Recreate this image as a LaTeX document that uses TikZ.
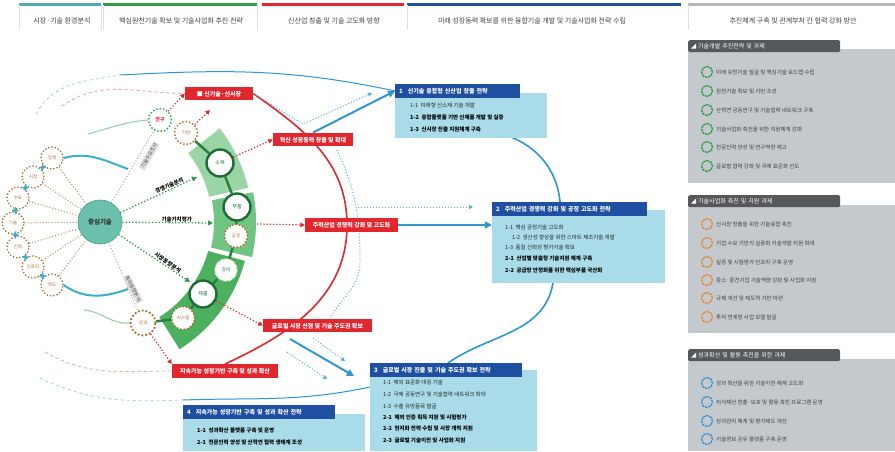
\documentclass[tikz,border=0pt]{standalone}
\usepackage{fontspec}
\setmainfont{Noto Sans CJK KR}
\usetikzlibrary{shapes.geometric,arrows.meta,calc}
\pgfdeclarelayer{bg}
\pgfsetlayers{bg,main}
\definecolor{tealc}{HTML}{4FA9B3}
\definecolor{greenc}{HTML}{2E9A4A}
\definecolor{redc}{HTML}{E1262D}
\definecolor{bluec}{HTML}{1F4FA0}
\definecolor{grayc}{HTML}{B8B8B8}
\definecolor{panelc}{HTML}{C3C9CC}
\definecolor{panelh}{HTML}{55595C}
\definecolor{bodyc}{HTML}{A9DCE8}
\definecolor{hubc}{HTML}{6CC1AC}
\definecolor{hubb}{HTML}{3E9F8A}
\definecolor{bandA}{HTML}{9BD5A5}
\definecolor{bandB}{HTML}{72C483}
\definecolor{bandC}{HTML}{4DB05E}
\definecolor{darkg}{HTML}{1E6B38}
\definecolor{brownc}{HTML}{A86B2D}
\definecolor{cyanc}{HTML}{3AAFC8}
\definecolor{lineblue}{HTML}{2E97CE}
\definecolor{orangec}{HTML}{E5873A}
\definecolor{itemblue}{HTML}{3A8FD0}
\tikzset{
 tabside/.style={draw=black!12, line width=0.8pt},
 tabtxt/.style={font=\fontsize{7}{8}\selectfont, text=black!75, inner sep=0},
 hubn/.style={circle, fill=hubc, draw=hubb, line width=0.6pt, minimum size=44pt, inner sep=0, font=\fontsize{6.5}{7}\selectfont\bfseries, text=black!80},
 chainc/.style={circle, fill=white, draw=brownc, dotted, line width=1.3pt, minimum size=22pt, inner sep=0, font=\fontsize{4.5}{5}\selectfont, text=brownc},
 starm/.style={star, star points=4, star point ratio=2.6, fill=cyanc, inner sep=0, minimum size=8pt},
 ringc/.style={circle, fill=white, draw=darkg, line width=2.4pt, minimum size=27pt, inner sep=0, font=\fontsize{5}{6}\selectfont, text=darkg},
 bdotc/.style={circle, fill=white, draw=brownc, dotted, line width=1.4pt, minimum size=23pt, inner sep=0, font=\fontsize{4.5}{5}\selectfont, text=brownc},
 gdotc/.style={circle, fill=white, draw=greenc, dotted, line width=1.4pt, minimum size=23pt, inner sep=0, font=\fontsize{5}{6}\selectfont\bfseries, text=redc},
 wdashc/.style={circle, fill=white, draw=greenc!60, dashed, line width=1pt, minimum size=23pt, inner sep=0, font=\fontsize{4.5}{5}\selectfont, text=darkg},
 redlab/.style={fill=redc, text=white, font=\fontsize{6}{7}\selectfont\bfseries, inner xsep=2pt, inner ysep=0, minimum height=13.5pt, text depth=0pt},
 bhead/.style={fill=bluec, text=white, font=\fontsize{6}{7}\selectfont\bfseries, inner xsep=4pt, inner ysep=0, minimum height=13.5pt, anchor=north west, align=left, text depth=0pt, text width=#1},
 bbody/.style={fill=bodyc, anchor=north west, inner sep=0},
 bline/.style={font=\fontsize{5.5}{6}\selectfont, text=black!85, anchor=west, inner sep=0},
 bbold/.style={font=\fontsize{5.5}{6}\selectfont\bfseries, text=black, anchor=west, inner sep=0},
 pbody/.style={fill=panelc, anchor=north west, inner sep=0},
 phead/.style={fill=panelh, text=white, font=\fontsize{6}{7}\selectfont, anchor=north west, minimum height=12pt, inner xsep=4pt, inner ysep=0, text depth=0pt, align=left, text width=144pt, rounded corners=1.5pt},
 itemc/.style={circle, draw=#1, line width=1.3pt, dash pattern=on 2.5pt off 0.8pt, minimum size=11pt, inner sep=0},
 itemt/.style={font=\fontsize{5.5}{6}\selectfont, text=black!75, anchor=west, inner sep=0},
 arrlab/.style={font=\fontsize{5.5}{6}\selectfont\bfseries, text=black, inner sep=0.5pt},
 graylab/.style={fill=black!12, font=\fontsize{5}{6}\selectfont, text=black!70, inner sep=1.2pt},
 greendot/.style={draw=greenc, dotted, line width=1.3pt, -{Triangle[length=5pt,width=5pt]}},
 graydot/.style={draw=black!35, dotted, line width=1pt},
 browndot/.style={draw=brownc!80, dotted, line width=1pt},
 reddot/.style={draw=redc, dotted, line width=1.2pt, -{Triangle[length=4.5pt,width=4.5pt]}},
 bluedot/.style={draw=lineblue!80, dotted, line width=1pt, -{Triangle[length=4pt,width=4pt]}},
 bluearr/.style={draw=lineblue, line width=2pt, -{Triangle[length=7pt,width=7pt]}},
 bluearc/.style={draw=lineblue, line width=1.6pt},
 bluethin/.style={draw=lineblue, line width=1pt},
 redarc/.style={draw=redc, line width=1.6pt},
 fredd/.style={draw=redc!45, dashed, line width=0.8pt},
 fblued/.style={draw=lineblue!45, dashed, line width=0.8pt},
 fgreen/.style={draw=greenc!45, line width=1.2pt},
 cyancurve/.style={draw=cyanc, line width=2pt},
 bandline/.style={draw=greenc!85!black, line width=2.5pt}
}
\begin{document}
\begin{tikzpicture}[x=1pt,y=1pt]
\useasboundingbox (0,0) rectangle (895,-451);

% ---------- tabs ----------
\draw[tealc,line width=2.2pt] (19,-4.5) -- (101,-4.5);
\draw[tabside] (19,-5) -- (19,-30) (101,-5) -- (101,-30);
\draw[greenc,line width=2.2pt] (103,-4.5) -- (257,-4.5);
\draw[tabside] (103,-5) -- (103,-30) (257,-5) -- (257,-30);
\draw[redc,line width=2.2pt] (262,-4.5) -- (404,-4.5);
\draw[bluec,line width=2.2pt] (407,-4.5) -- (681,-4.5);
\draw[tabside] (407,-5) -- (407,-30);
\draw[grayc,line width=2.2pt] (688,-4.5) -- (895,-4.5);
\draw[tabside] (688,-5) -- (688,-30);
\node[tabtxt] (tab1) at (62,-20.5) {시장·기술 환경분석};
\node[tabtxt] (tab2) at (181,-20.5) {핵심원천기술 확보 및 기술사업화 추진 전략};
\node[tabtxt] (tab3) at (334,-20.5) {신산업 창출 및 기술 고도화 방향};
\node[tabtxt] (tab4) at (532,-20.5) {미래 성장동력 확보를 위한 융합기술 개발 및 기술사업화 전략 수립};
\node[tabtxt] (tab5) at (793,-20.5) {추진체계 구축 및 관계부처 간 협력 강화 방안};

% ---------- right panels ----------
\node[pbody, minimum width=207pt, minimum height=134pt] (p1b) at (688,-49) {};
\node[phead] (p1h) at (688,-40) {\hspace{6pt}기술개발 추진전략 및 과제};
\fill[white] ($(p1h.west)+(3,-2.5)$) -- ++(5,0) -- ++(0,5) -- cycle;
\foreach \yy/\itm [count=\k] in {72/미래 유망기술 발굴 및 핵심기술 로드맵 수립,91/원천기술 확보 및 기반 조성,110/산학연 공동연구 및 기술협력 네트워크 구축,129/기술사업화 촉진을 위한 지원체계 강화,147/전문인력 양성 및 연구역량 제고,166/글로벌 협력 강화 및 국제 표준화 선도}{
  \node[itemc=greenc] (pa\k) at (707,-\yy) {};
  \node[itemt] (pat\k) at (716,-\yy) {\itm};
}
\node[pbody, minimum width=207pt, minimum height=128pt] (p2b) at (688,-205) {};
\node[phead] (p2h) at (688,-195) {\hspace{6pt}기술사업화 촉진 및 지원 과제};
\fill[white] ($(p2h.west)+(3,-2.5)$) -- ++(5,0) -- ++(0,5) -- cycle;
\foreach \yy/\itm [count=\k] in {224/신시장 창출을 위한 기술융합 촉진,243/기업 수요 기반의 실용화 기술개발 지원 확대,262/실증 및 시험평가 인프라 구축 운영,280/중소·중견기업 기술역량 강화 및 사업화 지원,298/규제 개선 및 제도적 기반 마련,317/투자 연계형 사업 모델 발굴}{
  \node[itemc=orangec] (pb\k) at (707,-\yy) {};
  \node[itemt] (pbt\k) at (716,-\yy) {\itm};
}
\node[pbody, minimum width=207pt, minimum height=92pt] (p3b) at (688,-359) {};
\node[phead] (p3h) at (688,-349) {\hspace{6pt}성과확산 및 활용 촉진을 위한 과제};
\fill[white] ($(p3h.west)+(3,-2.5)$) -- ++(5,0) -- ++(0,5) -- cycle;
\foreach \yy/\itm [count=\k] in {383/성과 확산을 위한 기술이전 체계 고도화,402/지식재산 창출·보호 및 활용 촉진 프로그램 운영,421/성과관리 체계 및 평가제도 개선,439/기술정보 공유 플랫폼 구축 운영}{
  \node[itemc=itemblue] (pc\k) at (707,-\yy) {};
  \node[itemt] (pct\k) at (716,-\yy) {\itm};
}

% ---------- hub and chain ----------
\node[hubn] (hub) at (100,-222) {중심기술};
\node[chainc] (c1) at (52,-158) {정책};
\node[chainc] (c2) at (33,-177) {시장};
\node[chainc] (c3) at (18,-198) {수요};
\node[chainc] (c4) at (13,-223) {기술};
\node[chainc] (c5) at (18,-247) {인력};
\node[chainc] (c6) at (33,-267) {인프라};
\node[chainc] (c7) at (52,-285) {제도};
\foreach \a/\b [count=\k] in {c1/c2,c2/c3,c3/c4,c4/c5,c5/c6,c6/c7}
  \node[starm] (st\k) at ($(\a)!0.5!(\b)$) {};

% ---------- band circles ----------
\node[gdotc] (g0) at (160,-120) {연구};
\node[bdotc] (b0) at (186,-133) {기반};
\node[ringc] (n1) at (220,-163) {소재};
\node[ringc] (n2) at (237,-207) {부품};
\node[bdotc] (b1) at (236,-236) {공정};
\node[wdashc] (w1) at (226,-270) {장비};
\node[ringc] (n3) at (203,-294) {제품};
\node[bdotc] (b2) at (183,-318) {시스템};
\node[bdotc, minimum size=25pt, line width=1.8pt] (b3) at (143,-323) {성과};

% ---------- red labels ----------
\node[redlab, minimum width=68pt] (R1) at (219,-93.5) {■ 신기술·신시장};
\node[redlab, minimum width=80pt] (R2) at (313,-139.5) {혁신 성장동력 창출 및 확대};
\node[redlab, minimum width=93pt] (R3) at (351.5,-225) {주력산업 경쟁력 강화 및 고도화};
\node[redlab, minimum width=109pt] (R4) at (317.5,-325.5) {글로벌 시장 선점 및 기술 주도권 확보};
\node[redlab, minimum width=106pt] (R5) at (225,-371) {지속가능 성장기반 구축 및 성과 확산};

% ---------- blue boxes ----------
\node[bbody, minimum width=152pt, minimum height=45pt] (b1b) at (395,-93) {};
\node[bhead=117pt] (b1h) at (395,-84) {1\hspace{5pt}신기술 융합형 신산업 창출 전략};
\node[bline] (b1l1) at (410,-105) {1-1\ \ 미래형 신소재 기술 개발};
\node[bbold] (b1l2) at (410,-117) {1-2\ \ 융합플랫폼 기반 신제품 개발 및 실증};
\node[bbold] (b1l3) at (410,-129) {1-3\ \ 신시장 진출 지원체계 구축};

\node[bbody, minimum width=173pt, minimum height=73pt] (b2b) at (492,-210) {};
\node[bhead=147pt] (b2h) at (492,-202) {2\hspace{5pt}주력산업 경쟁력 강화 및 공정 고도화 전략};
\node[bline] (b2l1) at (505,-227) {1-1\ \ 핵심 공정기술 고도화};
\node[bline] (b2l2) at (512,-237) {1-2\ \ 생산성 향상을 위한 스마트 제조기술 개발};
\node[bline] (b2l3) at (505,-247) {1-3\ \ 품질 신뢰성 평가기술 확보};
\node[bbold] (b2l4) at (505,-258) {2-1\ \ 산업별 맞춤형 기술지원 체계 구축};
\node[bbold] (b2l5) at (505,-270) {2-2\ \ 공급망 안정화를 위한 핵심부품 국산화};

\node[bbody, minimum width=167pt, minimum height=81pt] (b3b) at (370,-370) {};
\node[bhead=144pt] (b3h) at (370,-363) {3\hspace{5pt}글로벌 시장 진출 및 기술 주도권 확보 전략};
\node[bline] (b3l1) at (383,-382) {1-1\ \ 해외 표준화 대응 기술};
\node[bline] (b3l2) at (383,-394) {1-2\ \ 국제 공동연구 및 기술협력 네트워크 확대};
\node[bline] (b3l3) at (383,-406) {1-3\ \ 수출 유망품목 발굴};
\node[bbold] (b3l4) at (383,-417) {2-1\ \ 해외 인증 획득 지원 및 시험평가};
\node[bbold] (b3l5) at (383,-428) {2-2\ \ 현지화 전략 수립 및 시장 개척 지원};
\node[bbold] (b3l6) at (383,-440) {2-3\ \ 글로벌 기술이전 및 사업화 지원};

\node[bbody, minimum width=182pt, minimum height=37pt] (b4b) at (183,-414) {};
\node[bhead=144pt] (b4h) at (183,-405) {4\hspace{5pt}지속가능 성장기반 구축 및 성과 확산 전략};
\node[bbold] (b4l1) at (197,-430) {1-1\ \ 성과확산 플랫폼 구축 및 운영};
\node[bbold] (b4l2) at (197,-442) {2-1\ \ 전문인력 양성 및 산학연 협력 생태계 조성};

% ---------- free coordinates ----------
\coordinate (cy1) at (128,-169);
\coordinate (cy2) at (128,-289);
\coordinate (gs1) at (88,-134);
\coordinate (gs2) at (84,-310);
\coordinate (fr1) at (62,-106);
\coordinate (fr2) at (45,-352);
\coordinate (fb1) at (36,-114);
\coordinate (tbl) at (120,-75);
\coordinate (fb2) at (40,-378);
\coordinate (bbl) at (183,-400);
\coordinate (b3lw) at (370,-387);
\coordinate (ra) at (347,-225);
\coordinate (bb1) at (490,-131);
\coordinate (bb2) at (560,-202);
\coordinate (bb3) at (553,-283);
\coordinate (bb4) at (448,-363);
\coordinate (ga1) at (197,-177);
\coordinate (ga2) at (213,-223);
\coordinate (ga3) at (190,-282);
\coordinate (ra1) at (210,-110);
\coordinate (r3s) at (257,-224);
\coordinate (bd1) at (303,-124);
\coordinate (bd1e) at (372,-93);
\coordinate (bd2s) at (358,-207);
\coordinate (bd2e) at (473,-207);
\coordinate (bd5) at (337,-150);
\coordinate (bd6) at (360,-262);
\coordinate (bd7) at (330,-318);
\coordinate (bd3s) at (313,-338);
\coordinate (bd3e) at (345,-361);
\coordinate (bd4s) at (287,-352);
\coordinate (bd4e) at (327,-379);
\coordinate (a3s) at (290,-339);
\coordinate (a3e) at (354,-376);

% ---------- background: band, arcs ----------
\begin{pgfonlayer}{bg}
\fill[white] (0,0) rectangle (895,-451);
\fill[bandA] ($(hub)+(38:112pt)$) arc[start angle=38,end angle=13,radius=112pt] -- ($(hub)+(13:152pt)$) arc[start angle=13,end angle=38,radius=152pt] -- cycle;
\fill[bandB] ($(hub)+(11:114pt)$) arc[start angle=11,end angle=-13,radius=114pt] -- ($(hub)+(-13:156pt)$) arc[start angle=-13,end angle=11,radius=156pt] -- cycle;
\fill[bandC] ($(hub)+(-15:112pt)$) arc[start angle=-15,end angle=-58,radius=112pt] -- ($(hub)+(-58:150pt)$) arc[start angle=-58,end angle=-15,radius=150pt] -- cycle;
\draw[bandline] (b0) -- (n1) -- (n2) -- (b1) -- (w1) -- (n3) -- (b2) -- (b3);
% faint outer arcs
\draw[fredd] (fr1) to[out=35,in=180] (R1.west);
\draw[fredd] (fr2) to[out=-30,in=180] (R5.west);
\draw[fblued] (fb1) to[out=62,in=190] (tbl);
\draw[bluethin] (tbl) to[out=3,in=168] (b1h.west);
\draw[fblued] (fb2) to[out=-25,in=182] (bbl);
\draw[bluethin] (bbl) to[out=2,in=192] (b3lw);
\draw[fgreen] (gs1) to[out=15,in=185] (g0.west);
\draw[fgreen] (gs2) to[out=-5,in=185] (b3.west);
% big red arc
\draw[redarc] (R1.east) to[out=-35,in=90] (ra) to[out=-90,in=25] (R5.north);
% blue arcs
\draw[bluearc] (bb1) to[out=-10,in=95] (bb2);
\draw[bluearc] (bb3) to[out=-100,in=35] (bb4);
\draw[bluedot, -] (bd5) to[out=-65,in=90] (bd6) to[out=-90,in=60] (bd7);
% brown fan
\foreach \c in {c1,c2,c3,c4,c5,c6,c7} \draw[browndot] (\c) -- (hub);
\end{pgfonlayer}

% ---------- connectors ----------
\draw[cyancurve] (c1.east) to[out=15,in=160] (cy1);
\draw[cyancurve] (c7.east) to[out=-35,in=200] (cy2);

\draw[graydot] (hub) -- (g0);
\draw[graydot] (hub) -- (b3);
\node[graylab, rotate=60] (gl1) at (149,-156) {기술수요조사};
\node[graylab, rotate=-62] (gl2) at (133,-289) {특허동향분석};

\draw[greendot] (hub) -- node[arrlab, sloped, above, pos=0.66] (al1) {경쟁기술분석} (ga1);
\draw[greendot] (hub) -- node[arrlab, above, pos=0.6] (al2) {기술가치평가} (ga2);
\draw[greendot] (hub) -- node[arrlab, sloped, above, pos=0.66] (al3) {시장동향분석} (ga3);

\draw[reddot] (g0) -- (R1.west);
\draw[reddot] (b0) -- (ra1);
\draw[reddot] (n1) -- (R2.west);
\draw[reddot] (r3s) -- (R3.west);
\draw[reddot] (n3) -- (R4.west);
\draw[reddot] (b3) -- (R5.north west);

\draw[bluedot] (R1.east) -- (bd1) -- (bd1e);
\draw[bluedot] (bd2s) -- (bd2e);
\draw[bluedot] (bd3s) -- (bd3e);
\draw[bluedot] (bd4s) -- (bd4e);

\draw[bluearr] (R2.north) -- (b1h.west);
\draw[bluearr] (R3.east) -- (R3.east -| b2b.west);
\draw[bluearr] (a3s) -- (a3e);
\end{tikzpicture}
\end{document}
